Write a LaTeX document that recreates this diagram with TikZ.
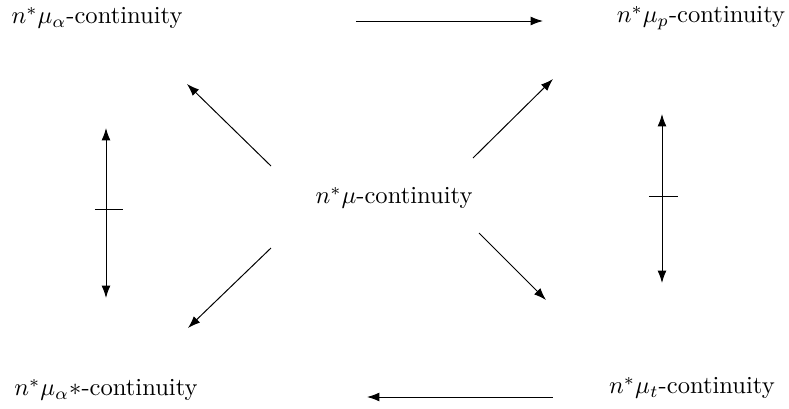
\documentclass[tikz,border=0pt]{standalone}
\usepackage{amsmath,amssymb}
\usetikzlibrary{arrows.meta, calc}

\begin{document}
\begin{tikzpicture}[x=0.0143cm, y=-0.0143cm,
  arr/.style={-{Latex[length=5pt,width=3.6pt]}, line width=0.4pt},
  darr/.style={{Latex[length=5pt,width=3.6pt]}-{Latex[length=5pt,width=3.6pt]}, line width=0.4pt},
  cont/.style={inner sep=0pt, font=\normalsize}]
  \useasboundingbox (0,0) rectangle (789,409);

  % the five notions
  \node[cont] (ma)  at (97,18)   {$n^*\mu_\alpha$-continuity};
  \node[cont] (mp)  at (701,18)  {$n^*\mu_p$-continuity};
  \node[cont] (m)   at (394,198) {$n^*\mu$-continuity};
  \node[cont] (mas) at (106,390) {$n^*\mu_\alpha{*}$-continuity};
  \node[cont] (mt)  at (692,388) {$n^*\mu_t$-continuity};

  % arrow ends
  \coordinate (top1) at (356,21);  \coordinate (top2) at (543,21);
  \coordinate (bot1) at (553,397); \coordinate (bot2) at (367,397);
  \coordinate (ul1) at (271,166);  \coordinate (ul2) at (187,84);
  \coordinate (ur1) at (473,158);  \coordinate (ur2) at (553,79);
  \coordinate (ll1) at (271,248);  \coordinate (ll2) at (188,328);
  \coordinate (lr1) at (479,233);  \coordinate (lr2) at (546,300);
  \coordinate (lv1) at (106,128);  \coordinate (lv2) at (106,298);
  \coordinate (rv1) at (662,114);  \coordinate (rv2) at (662,283);

  % implications
  \draw[arr] (top1) -- (top2);
  \draw[arr] (bot1) -- (bot2);
  \draw[arr] (ul1) -- (ul2);
  \draw[arr] (ur1) -- (ur2);
  \draw[arr] (ll1) -- (ll2);
  \draw[arr] (lr1) -- (lr2);

  % negated equivalences
  \draw[darr] (lv1) -- (lv2);
  \draw ($(lv1)!0.48!(lv2)$) ++(-11,0) -- ++(28,0);
  \draw[darr] (rv1) -- (rv2);
  \draw ($(rv1)!0.49!(rv2)$) ++(-13,0) -- ++(29,0);
\end{tikzpicture}
\end{document}
